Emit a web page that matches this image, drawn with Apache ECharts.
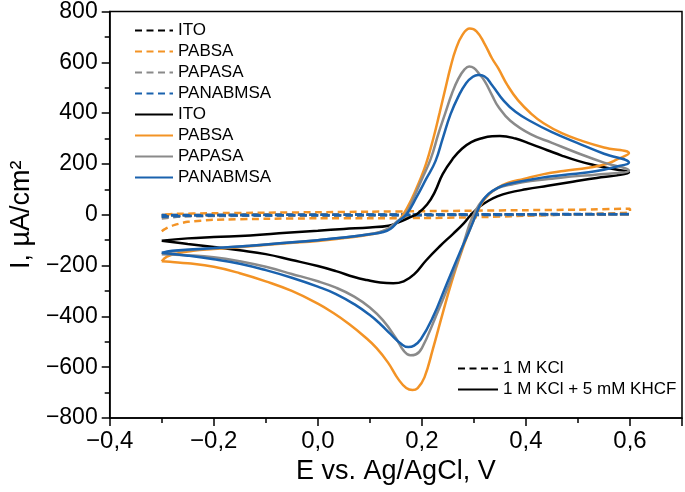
<!DOCTYPE html>
<html>
<head>
<meta charset="utf-8">
<script src="https://cdn.jsdelivr.net/npm/echarts@6/dist/echarts.min.js"></script>
<style>html,body{margin:0;padding:0;background:#fff}#c{width:685px;height:492px}</style>
</head>
<body>
<div id="c"></div>
<script>
// ---- Data: [E (V vs Ag/AgCl), I (µA/cm²)] ----
// 1 M KCl (dashed)
const itoKCl = [[-0.30,-6],[-0.25,-4],[0.0,-2],[0.3,0],[0.6,2],[0.6,3],[0.3,1],[0.0,0],[-0.30,-1]];
const pabsaKCl = [[-0.30,-65],[-0.29,-52],[-0.275,-40],[-0.25,-28],[-0.2,-20],[-0.1,-16],[0.0,-14],[0.1,-14],[0.2,-13],[0.3,-10],[0.4,-4],[0.5,2],[0.6,10],
  [0.6,24],[0.5,20],[0.4,18],[0.3,16],[0.2,14],[0.1,12],[0.0,10],[-0.1,8],[-0.2,6],[-0.28,3],[-0.30,0]];
const papasaKCl = [[-0.30,-15],[-0.27,-8],[-0.2,-5],[0.0,-3],[0.3,-2],[0.6,2],[0.6,4],[0.3,2],[0.0,1],[-0.30,-3]];
const panabmsaKCl = [[-0.30,-8],[-0.25,-4],[0.0,-2],[0.3,0],[0.6,3],[0.6,5],[0.3,2],[0.0,0],[-0.30,-2]];

// 1 M KCl + 5 mM KHCF (solid)
const itoKHCF = [[-0.30,-102],[-0.25,-93],[-0.2,-88],[-0.13,-82],[-0.06,-71],[0.0,-63],[0.05,-56],[0.1,-50],[0.136,-43],[0.155,-30],[0.175,-12],[0.192,5],[0.21,40],[0.225,90],[0.24,160],[0.26,222],[0.277,260],[0.295,286],[0.315,301],[0.335,309],[0.35,310],[0.38,300],[0.41,278],[0.44,255],[0.47,232],[0.50,212],[0.53,196],[0.56,183],[0.598,166],
  [0.575,155],[0.536,145],[0.49,130],[0.442,114],[0.40,100],[0.366,86],[0.345,72],[0.328,55],[0.31,30],[0.296,4],[0.28,-35],[0.26,-75],[0.234,-125],[0.208,-180],[0.185,-235],[0.165,-262],[0.145,-270],[0.12,-267],[0.094,-257],[0.07,-245],[0.035,-222],[0.0,-202],[-0.05,-178],[-0.1,-155],[-0.15,-140],[-0.2,-127],[-0.25,-115],[-0.30,-102]];
const pabsaKHCF = [[-0.30,-183],[-0.29,-165],[-0.27,-152],[-0.24,-142],[-0.2,-135],[-0.13,-124],[-0.06,-112],[0.0,-103],[0.05,-92],[0.1,-78],[0.13,-62],[0.15,-35],[0.164,0],[0.18,60],[0.195,130],[0.208,200],[0.222,300],[0.234,400],[0.245,495],[0.255,580],[0.265,650],[0.278,708],[0.292,733],[0.305,722],[0.32,675],[0.335,615],[0.347,576],[0.365,508],[0.385,450],[0.41,398],[0.434,360],[0.47,320],[0.509,290],[0.55,265],[0.598,242],
  [0.575,218],[0.555,200],[0.52,185],[0.472,172],[0.43,158],[0.396,141],[0.365,125],[0.347,108],[0.33,82],[0.315,45],[0.3,-20],[0.288,-80],[0.277,-141],[0.258,-259],[0.24,-388],[0.221,-530],[0.205,-640],[0.192,-682],[0.182,-690],[0.17,-682],[0.155,-648],[0.135,-582],[0.113,-525],[0.09,-480],[0.06,-430],[0.03,-387],[0.0,-350],[-0.05,-300],[-0.1,-262],[-0.15,-230],[-0.2,-205],[-0.25,-191],[-0.28,-186],[-0.30,-183]];
const papasaKHCF = [[-0.30,-155],[-0.28,-145],[-0.24,-138],[-0.2,-132],[-0.13,-122],[-0.06,-110],[0.0,-100],[0.05,-90],[0.1,-76],[0.13,-60],[0.15,-30],[0.168,0],[0.185,70],[0.2,140],[0.217,220],[0.232,320],[0.245,400],[0.258,478],[0.27,535],[0.282,572],[0.291,584],[0.30,578],[0.31,555],[0.321,525],[0.335,470],[0.347,425],[0.37,370],[0.409,317],[0.45,283],[0.504,239],[0.55,205],[0.598,174],
  [0.55,160],[0.504,153],[0.45,142],[0.409,133],[0.37,118],[0.347,106],[0.328,80],[0.31,40],[0.295,-20],[0.285,-80],[0.274,-153],[0.253,-270],[0.226,-404],[0.2,-525],[0.188,-550],[0.178,-553],[0.165,-535],[0.15,-485],[0.125,-415],[0.1,-365],[0.07,-322],[0.035,-287],[0.0,-262],[-0.05,-233],[-0.1,-205],[-0.15,-183],[-0.2,-167],[-0.25,-159],[-0.30,-155]];
const panabmsaKHCF = [[-0.30,-150],[-0.28,-142],[-0.24,-136],[-0.2,-131],[-0.13,-122],[-0.06,-110],[0.0,-100],[0.05,-90],[0.1,-77],[0.126,-68],[0.14,-55],[0.155,-25],[0.17,0],[0.19,70],[0.208,140],[0.226,210],[0.24,300],[0.255,395],[0.27,465],[0.285,518],[0.298,543],[0.308,550],[0.32,545],[0.335,510],[0.358,447],[0.38,405],[0.409,368],[0.45,325],[0.504,278],[0.55,240],[0.598,205],
  [0.575,190],[0.536,172],[0.49,160],[0.442,150],[0.40,135],[0.366,121],[0.345,105],[0.328,82],[0.315,50],[0.306,10],[0.29,-70],[0.272,-153],[0.245,-286],[0.221,-404],[0.198,-490],[0.185,-515],[0.174,-521],[0.16,-508],[0.14,-470],[0.12,-430],[0.1,-395],[0.07,-352],[0.035,-312],[0.0,-283],[-0.05,-248],[-0.1,-218],[-0.15,-193],[-0.2,-175],[-0.25,-161],[-0.30,-150]];

const materials = ['ITO','PABSA','PAPASA','PANABMSA'];
const electrolytes = ['1 M KCl','1 M KCl + 5 mM KHCF'];
const colors = {ITO:'#000000', PABSA:'#F39325', PAPASA:'#8A8A8A', PANABMSA:'#1A62AE'};
const kclData = [itoKCl, pabsaKCl, papasaKCl, panabmsaKCl];
const khcfData = [itoKHCF, pabsaKHCF, papasaKHCF, panabmsaKHCF];

const FONT = 'Liberation Sans, Arial, Helvetica, sans-serif';
const DASH = [7, 4.5];
const LW = 2.5;

const series = [];
materials.forEach((m, i) => {
  series.push({name: m + '#d', type: 'line', data: kclData[i], showSymbol: false, symbol: 'none',
    lineStyle: {color: colors[m], width: LW, type: DASH}, itemStyle: {color: colors[m]}, smooth: 0.2});
});
materials.forEach((m, i) => {
  series.push({name: m + '#s', type: 'line', data: khcfData[i], showSymbol: false, symbol: 'none',
    lineStyle: {color: colors[m], width: LW, type: 'solid'}, itemStyle: {color: colors[m]}, smooth: 0.45});
});
series.push({name: electrolytes[0], type: 'line', data: [], symbol: 'none', lineStyle: {color: '#000', width: LW, type: DASH}, itemStyle: {color: '#000'}});
series.push({name: electrolytes[1], type: 'line', data: [], symbol: 'none', lineStyle: {color: '#000', width: LW, type: 'solid'}, itemStyle: {color: '#000'}});

function fmtX(v) {
  const r = Math.round(v * 10);
  if (r % 2 !== 0 || r > 6) return '';
  return (r < 0 ? '\u2212' : '') + Math.abs(r / 10).toFixed(1).replace('.', ',');
}
function fmtY(v) {
  const r = Math.round(v);
  if (r % 200 !== 0) return '';
  return (r < 0 ? '\u2212' : '') + Math.abs(r);
}

const legendItemStyle = {opacity: 0, color: 'rgba(0,0,0,0)', borderColor: 'rgba(0,0,0,0)', borderWidth: 0};

const chart = echarts.init(document.getElementById('c'), null, {renderer: 'canvas'});
chart.setOption({
  animation: false,
  backgroundColor: '#fff',
  textStyle: {fontFamily: FONT},
  grid: {left: 101, right: 2, top: 10, bottom: 74, show: true, borderColor: '#000', borderWidth: 1.5, backgroundColor: 'transparent'},
  legend: [
    {data: materials.map(m => m + '#d').concat(materials.map(m => m + '#s')),
     orient: 'vertical', left: 129, top: 17, itemWidth: 38, itemHeight: 14, itemGap: 4, selectedMode: false,
     formatter: n => n.split('#')[0], itemStyle: legendItemStyle,
     textStyle: {fontSize: 17, color: '#000', fontFamily: FONT}},
    {data: electrolytes, orient: 'vertical', left: 452, top: 355, itemWidth: 40, itemHeight: 14, itemGap: 4, selectedMode: false,
     itemStyle: legendItemStyle,
     textStyle: {fontSize: 17, color: '#000', fontFamily: FONT}}
  ],
  xAxis: [
    {type: 'value', min: -0.4, max: 0.7, interval: 0.1, position: 'bottom',
     name: 'E vs. Ag/AgCl, V', nameLocation: 'middle', nameGap: 37,
     nameTextStyle: {fontSize: 27, color: '#000', fontFamily: FONT},
     axisLine: {show: true, onZero: false, lineStyle: {color: '#000', width: 1.5}},
     axisTick: {show: true, inside: false, length: 5, lineStyle: {color: '#000', width: 1.5}},
     axisLabel: {formatter: fmtX, fontSize: 24, color: '#000', margin: 11, fontFamily: FONT},
     splitLine: {show: false}},
    {type: 'value', min: -0.4, max: 0.7, interval: 0.2, position: 'bottom',
     axisLine: {show: false, onZero: false}, axisLabel: {show: false},
     axisTick: {show: true, inside: false, length: 8, lineStyle: {color: '#000', width: 1.5}},
     splitLine: {show: false}}
  ],
  yAxis: [
    {type: 'value', min: -800, max: 800, interval: 100, position: 'left',
     name: 'I, µA/cm²', nameLocation: 'middle', nameGap: 70, nameRotate: 90,
     nameTextStyle: {fontSize: 27, color: '#000', fontFamily: FONT},
     axisLine: {show: true, onZero: false, lineStyle: {color: '#000', width: 1.5}},
     axisTick: {show: true, inside: false, length: 5, lineStyle: {color: '#000', width: 1.5}},
     axisLabel: {formatter: fmtY, fontSize: 23, color: '#000', margin: 12, fontFamily: FONT},
     splitLine: {show: false}},
    {type: 'value', min: -800, max: 800, interval: 200, position: 'left',
     axisLine: {show: false, onZero: false}, axisLabel: {show: false},
     axisTick: {show: true, inside: false, length: 8, lineStyle: {color: '#000', width: 1.5}},
     splitLine: {show: false}}
  ],
  series: series
});
</script>
</body>
</html>
